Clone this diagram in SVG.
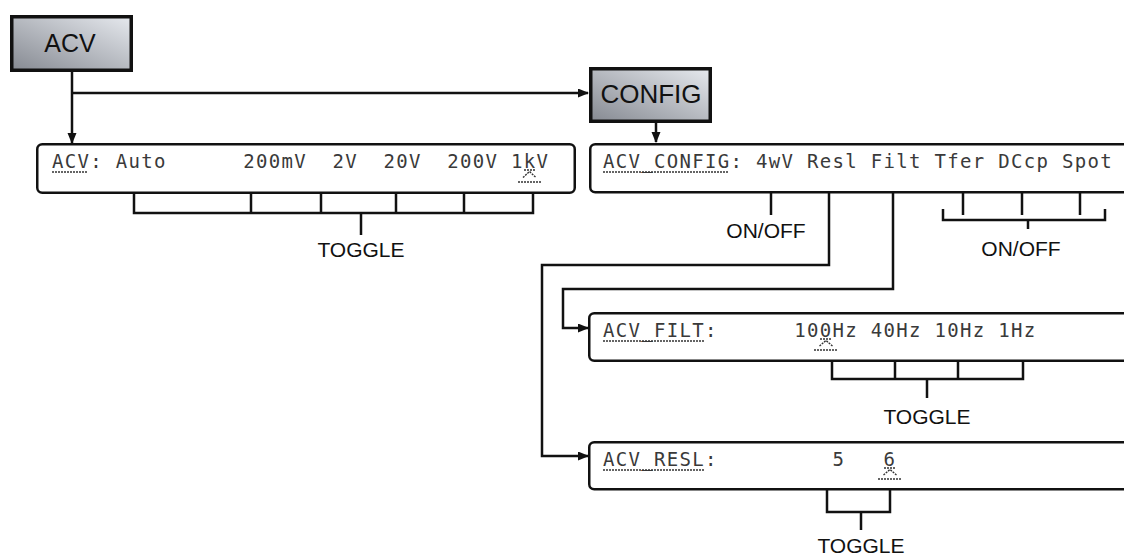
<svg xmlns="http://www.w3.org/2000/svg" width="1124" height="555" viewBox="0 0 1124 555">
<defs>
<linearGradient id="btn" x1="0" y1="1" x2="1" y2="0">
<stop offset="0" stop-color="#868a92"/>
<stop offset="1" stop-color="#e6e9ee"/>
</linearGradient>
<marker id="arr" markerWidth="11" markerHeight="10" refX="10" refY="4.5" orient="auto" markerUnits="userSpaceOnUse">
<path d="M0,0 L11,4.5 L0,9 z" fill="#111"/>
</marker>
<style>
.btn{fill:url(#btn);stroke:#111;stroke-width:3.5}
.btxt{font-family:"Liberation Sans",Arial,sans-serif;fill:#111;text-anchor:middle}
.disp{fill:#fff;stroke:#111;stroke-width:2.5}
.lcd{font-family:"DejaVu Sans Mono","Liberation Mono",monospace;font-size:19px;letter-spacing:1.3px;fill:#3a3a3a}
.ul{stroke:#333;stroke-width:1.5;stroke-dasharray:2 1;fill:none}
.car{stroke:#333;stroke-width:1.4;fill:none;stroke-dasharray:2 1}
.ln{stroke:#111;stroke-width:2.5;fill:none}
.lbl{font-family:"Liberation Sans",Arial,sans-serif;font-size:21px;fill:#111;text-anchor:middle}
</style>
</defs>
<g id="connectors">
<path class="ln" d="M72,72 V143" marker-end="url(#arr)"/>
<path class="ln" d="M72,93 H588" marker-end="url(#arr)"/>
<path class="ln" d="M656,123 V142" marker-end="url(#arr)"/>
<path class="ln" d="M829,192 V265 H542 V456 H588" marker-end="url(#arr)"/>
<path class="ln" d="M893,192 V289 H563 V328 H588" marker-end="url(#arr)"/>
</g>
<g id="btn-acv">
<rect class="btn" x="11.75" y="16.75" width="119.5" height="53.5"/>
<text class="btxt" x="70" y="52" font-size="25">ACV</text>
</g>
<g id="btn-config">
<rect class="btn" x="590.75" y="68.75" width="119.5" height="52.5"/>
<text class="btxt" x="651" y="103" font-size="26">CONFIG</text>
</g>
<g id="disp-acv">
<rect class="disp" x="37.25" y="144.25" width="537.5" height="48.5" rx="5"/>
<text class="lcd" y="168"><tspan x="52">ACV:</tspan><tspan x="115.75">Auto</tspan><tspan x="243.25">200mV</tspan><tspan x="332.5">2V</tspan><tspan x="383.5">20V</tspan><tspan x="447.25">200V</tspan><tspan x="511">1kV</tspan></text>
<path class="ul" d="M52,172 H88"/>
<path class="ul" d="M524,170 H535"/>
<path class="car" d="M523,177.5 L529.5,171.5 L536,177.5"/>
<path class="car" d="M518,182 H541"/>
</g>
<g id="bracket-acv">
<path class="ln" d="M134,193 V213 H533 V193 M251,193 V213 M321,193 V213 M396,193 V213 M464,193 V213 M361,213 V235"/>
<text class="lbl" x="361" y="257">TOGGLE</text>
</g>
<g id="disp-config">
<rect class="disp" x="590.25" y="144.25" width="545" height="48" rx="5"/>
<text class="lcd" y="168"><tspan x="603">ACV_CONFIG:</tspan><tspan x="756">4wV</tspan><tspan x="807">Resl</tspan><tspan x="870.75">Filt</tspan><tspan x="934.5">Tfer</tspan><tspan x="998.25">DCcp</tspan><tspan x="1062">Spot</tspan></text>
<path class="ul" d="M603,172 H729"/>
</g>
<g id="onoff-4wv">
<path class="ln" d="M771,192 V215"/>
<text class="lbl" x="766" y="238">ON/OFF</text>
</g>
<g id="onoff-right">
<path class="ln" d="M963,192 V215 M1022,192 V215 M1080,192 V215 M943,209 V220 H1105 V209 M1028,220 V229"/>
<text class="lbl" x="1021" y="256">ON/OFF</text>
</g>
<g id="disp-filt">
<rect class="disp" x="589.25" y="313.25" width="545" height="47.5" rx="5"/>
<text class="lcd" y="337"><tspan x="603">ACV_FILT:</tspan><tspan x="794.25">100Hz</tspan><tspan x="870.75">40Hz</tspan><tspan x="934.5">10Hz</tspan><tspan x="998.25">1Hz</tspan></text>
<path class="ul" d="M603,341 H704"/>
<path class="ul" d="M820,339 H831"/>
<path class="car" d="M819.5,346 L826,340.5 L832.5,346"/>
<path class="car" d="M814,350 H837"/>
</g>
<g id="bracket-filt">
<path class="ln" d="M832,361 V379 H1023 V361 M895,361 V379 M958,361 V379 M927,379 V398"/>
<text class="lbl" x="927" y="424">TOGGLE</text>
</g>
<g id="disp-resl">
<rect class="disp" x="589.25" y="442.25" width="545" height="47" rx="5"/>
<text class="lcd" y="466"><tspan x="603">ACV_RESL:</tspan><tspan x="832.5">5</tspan><tspan x="883.5">6</tspan></text>
<path class="ul" d="M603,470 H704"/>
<path class="ul" d="M884,468 H895"/>
<path class="car" d="M883.5,475 L890,469.5 L896.5,475"/>
<path class="car" d="M878,479 H901"/>
</g>
<g id="bracket-resl">
<path class="ln" d="M827,489 V512 H890 V489 M861,512 V530"/>
<text class="lbl" x="861" y="553">TOGGLE</text>
</g>
</svg>
